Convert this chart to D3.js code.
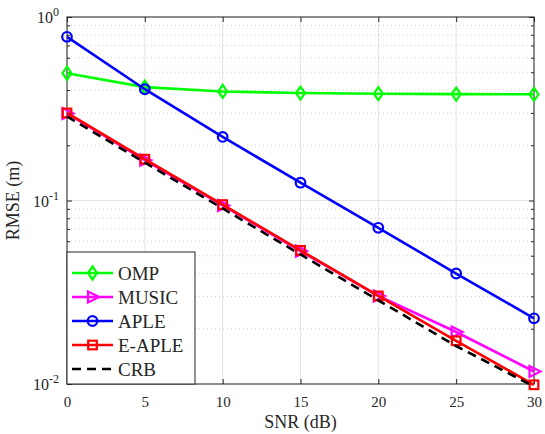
<!DOCTYPE html>
<html lang="en">
<head>
<meta charset="UTF-8">
<title>RMSE vs SNR</title>
<script src="https://d3js.org/d3.v7.min.js"></script>
</head>
<body style="margin:0;background:#fff">
<div id="chart"></div>
<script>
// data
var snr = [0, 5, 10, 15, 20, 25, 30];
var omp = [0.494, 0.415, 0.393, 0.385, 0.382, 0.380, 0.379];
var music = [0.298, 0.166, 0.094, 0.053, 0.0302, 0.0192, 0.0117];
var aple = [0.78, 0.404, 0.222, 0.125, 0.071, 0.040, 0.0228];
var eaple = [0.300, 0.168, 0.095, 0.0535, 0.0302, 0.0172, 0.0099];
var crb = [0.287, 0.161, 0.0905, 0.0508, 0.0286, 0.0161, 0.0097];
var xTicks = [0, 5, 10, 15, 20, 25, 30];
var yTicks = [0.01, 0.1, 1];
var yExp = ["-2", "-1", "0"];

var FONT = "Liberation Serif";
var W = 545, H = 434;
var margin = {top: 17, right: 11, bottom: 50, left: 67};
var width = W - margin.left - margin.right,
    height = H - margin.top - margin.bottom;

var svg = d3.select("#chart").append("svg")
    .attr("width", W).attr("height", H)
    .attr("font-family", FONT);
var g = svg.append("g")
    .attr("transform", "translate(" + margin.left + "," + margin.top + ")");

var x = d3.scaleLinear().domain([0, 30]).range([0, width]);
var y = d3.scaleLog().domain([0.01, 1]).range([height, 0]);

// minor y values
var minor = [];
[0.01, 0.1].forEach(function(d) {
  for (var k = 2; k <= 9; k++) minor.push(d * k);
});

// grid
g.selectAll(".mgrid").data(minor).enter().append("line")
    .attr("x1", 0).attr("x2", width)
    .attr("y1", function(d) { return y(d); }).attr("y2", function(d) { return y(d); })
    .attr("stroke", "#d0d0d0").attr("stroke-width", 1)
    .attr("stroke-dasharray", "1,3");
g.selectAll(".xgrid").data(xTicks).enter().append("line")
    .attr("x1", function(d) { return x(d); }).attr("x2", function(d) { return x(d); })
    .attr("y1", 0).attr("y2", height)
    .attr("stroke", "#e3e3e3").attr("stroke-width", 1);
g.selectAll(".ygrid").data(yTicks).enter().append("line")
    .attr("x1", 0).attr("x2", width)
    .attr("y1", function(d) { return y(d); }).attr("y2", function(d) { return y(d); })
    .attr("stroke", "#e3e3e3").attr("stroke-width", 1);

// axes (ticks inside, mirrored)
var axColor = "#262626";
function styleAxis(sel) {
  sel.select(".domain").remove();
  sel.attr("font-family", FONT);
  sel.selectAll("line").attr("stroke", axColor);
}
g.append("g").attr("transform", "translate(0," + height + ")")
    .call(d3.axisBottom(x).tickValues(xTicks).tickSize(-5).tickPadding(12))
    .call(styleAxis)
    .selectAll("text").attr("font-size", 15).attr("fill", axColor);
g.append("g")
    .call(d3.axisTop(x).tickValues(xTicks).tickSize(-5).tickFormat(""))
    .call(styleAxis);
g.append("g")
    .call(d3.axisLeft(y).tickValues(yTicks).tickSize(-5).tickFormat(""))
    .call(styleAxis);
g.append("g")
    .call(d3.axisLeft(y).tickValues(minor).tickSize(-3).tickFormat(""))
    .call(styleAxis);
g.append("g").attr("transform", "translate(" + width + ",0)")
    .call(d3.axisRight(y).tickValues(yTicks).tickSize(-5).tickFormat(""))
    .call(styleAxis);
g.append("g").attr("transform", "translate(" + width + ",0)")
    .call(d3.axisRight(y).tickValues(minor).tickSize(-3).tickFormat(""))
    .call(styleAxis);

// y tick labels 10^n
yTicks.forEach(function(d, i) {
  var t = g.append("text")
      .attr("x", -8).attr("y", y(d) + 6)
      .attr("text-anchor", "end")
      .attr("font-size", 16).attr("fill", axColor);
  t.append("tspan").text("10");
  t.append("tspan").attr("dy", -7).attr("font-size", 12).text(yExp[i]);
});

g.append("rect").attr("width", width).attr("height", height)
    .attr("fill", "none").attr("stroke", axColor).attr("stroke-width", 1);

// labels
svg.append("text")
    .attr("x", margin.left + width / 2).attr("y", H - 6)
    .attr("text-anchor", "middle").attr("font-size", 18).attr("fill", axColor)
    .text("SNR (dB)");
svg.append("text")
    .attr("transform", "translate(19," + (margin.top + height / 2) + ") rotate(-90)")
    .attr("text-anchor", "middle").attr("font-size", 18).attr("fill", axColor)
    .text("RMSE (m)");

// series
var series = [
  {name: "OMP", vals: omp, color: "#00ff00", marker: "diamond"},
  {name: "MUSIC", vals: music, color: "#ff00ff", marker: "triangle"},
  {name: "APLE", vals: aple, color: "#0000ff", marker: "circle"},
  {name: "E-APLE", vals: eaple, color: "#ff0000", marker: "square"},
  {name: "CRB", vals: crb, color: "#000000", marker: null, dash: "9,6"}
];

function drawMarker(sel, type, color, cx, cy) {
  if (type === "circle") {
    sel.append("circle").attr("cx", cx).attr("cy", cy).attr("r", 4.8)
        .attr("fill", "none").attr("stroke", color).attr("stroke-width", 2.2);
  } else if (type === "square") {
    sel.append("rect").attr("x", cx - 4.3).attr("y", cy - 4.3).attr("width", 8.6).attr("height", 8.6)
        .attr("fill", "none").attr("stroke", color).attr("stroke-width", 2.2);
  } else if (type === "diamond") {
    sel.append("path")
        .attr("d", "M" + cx + "," + (cy - 6.5) + "L" + (cx + 4.5) + "," + cy + "L" + cx + "," + (cy + 6.5) + "L" + (cx - 4.5) + "," + cy + "Z")
        .attr("fill", "none").attr("stroke", color).attr("stroke-width", 2.2);
  } else if (type === "triangle") {
    sel.append("path")
        .attr("d", "M" + (cx + 6.5) + "," + cy + "L" + (cx - 4.5) + "," + (cy - 5.5) + "L" + (cx - 4.5) + "," + (cy + 5.5) + "Z")
        .attr("fill", "none").attr("stroke", color).attr("stroke-width", 2.2);
  }
}

var line = d3.line()
    .x(function(d, i) { return x(snr[i]); })
    .y(function(d) { return y(d); });

series.forEach(function(s) {
  g.append("path").datum(s.vals)
      .attr("d", line)
      .attr("fill", "none").attr("stroke", s.color).attr("stroke-width", 2.6)
      .attr("stroke-dasharray", s.dash || null);
  if (s.marker) {
    var mg = g.append("g");
    s.vals.forEach(function(v, i) { drawMarker(mg, s.marker, s.color, x(snr[i]), y(v)); });
  }
});

// legend
var lg = svg.append("g").attr("transform", "translate(67,252)");
lg.append("rect").attr("width", 128).attr("height", 132)
    .attr("fill", "#fff").attr("stroke", axColor).attr("stroke-width", 1);
series.forEach(function(s, i) {
  var ly = 21 + i * 24;
  lg.append("line").attr("x1", 5).attr("x2", 46).attr("y1", ly).attr("y2", ly)
      .attr("stroke", s.color).attr("stroke-width", 2.6)
      .attr("stroke-dasharray", s.dash || null);
  if (s.marker) drawMarker(lg, s.marker, s.color, 25.5, ly);
  lg.append("text").attr("x", 51).attr("y", ly + 6.5)
      .attr("font-size", 19).attr("fill", axColor)
      .text(s.name);
});
</script>
</body>
</html>
